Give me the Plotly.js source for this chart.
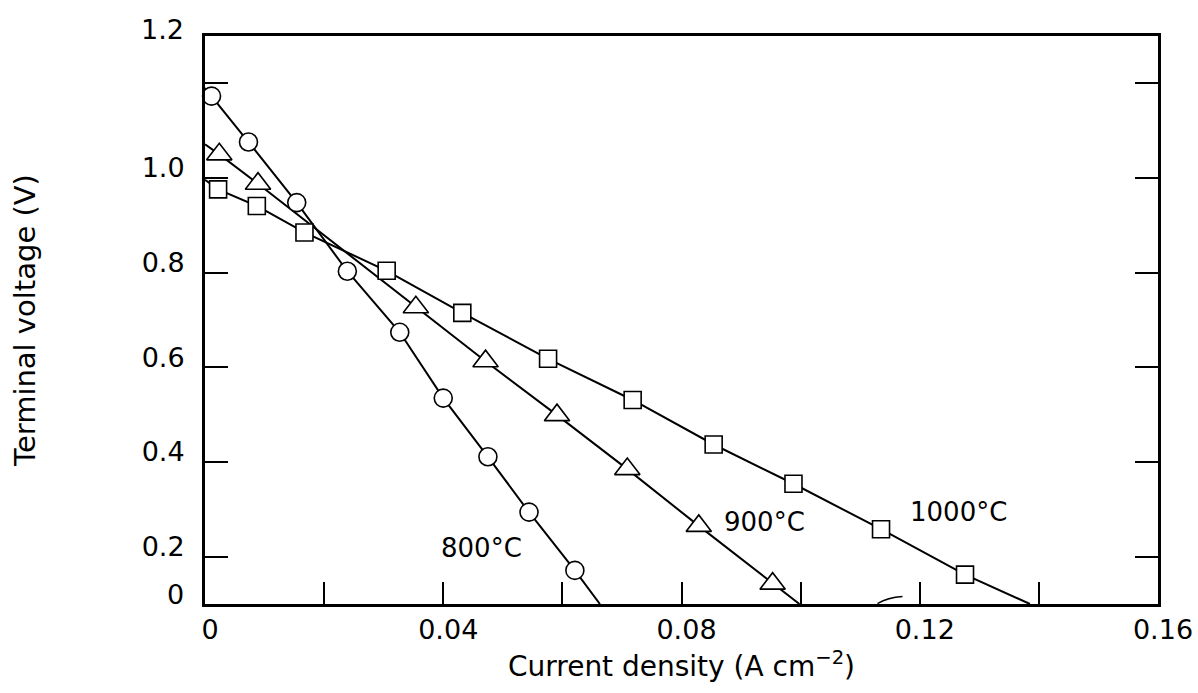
<!DOCTYPE html>
<html>
<head>
<meta charset="utf-8">
<script src="https://cdn.plot.ly/plotly-3.0.1.min.js"></script>
<style>html,body{margin:0;padding:0;background:#fff;}#chart{width:1198px;height:693px;}</style>
</head>
<body>
<div id="chart"></div>
<script>
// ---- data ----
const x800 = [0.0011, 0.0073, 0.0154, 0.0239, 0.0327, 0.0400, 0.0475, 0.0544, 0.0621];
const y800 = [1.173, 1.076, 0.948, 0.803, 0.674, 0.535, 0.411, 0.294, 0.171];
const ends800X = [0, 0.0663];
const ends800Y = [1.19, 0.1];

const x900 = [0.0024, 0.0089, 0.0354, 0.0471, 0.0591, 0.0709, 0.0829, 0.0953];
const y900 = [1.050, 0.988, 0.727, 0.613, 0.499, 0.385, 0.265, 0.143];
const ends900X = [0, 0.0998];
const ends900Y = [1.071, 0.1];

const x1000 = [0.0022, 0.0087, 0.0167, 0.0305, 0.0432, 0.0576, 0.0718, 0.0854, 0.0988, 0.1135, 0.1276];
const y1000 = [0.976, 0.941, 0.885, 0.804, 0.715, 0.618, 0.531, 0.437, 0.354, 0.258, 0.162];
const ends1000X = [0, 0.1385];
const ends1000Y = [0.996, 0.1];

const seriesLabels = ['800°C', '900°C', '1000°C'];
const labelX = [0.0465, 0.0939, 0.1265];
const labelY = [0.219, 0.274, 0.294];

const xTickVals = [0, 0.04, 0.08, 0.12, 0.16];
const xTickText = ['0', '0.04', '0.08', '0.12', '0.16'];
const xMinorTicks = [0.02, 0.06, 0.10, 0.14];
const yTickVals = [0.2, 0.4, 0.6, 0.8, 1.0];
const yTickText = ['0.2', '0.4', '0.6', '0.8', '1.0'];
const yMinorTicks = [1.2];
const yEdgeLabels = ['0', '1.2'];

// ---- build ----
const FONT = 'DejaVu Sans, Liberation Sans, Arial, sans-serif';
function fullLine(xs, ys, ex, ey) {
  return { x: [ex[0]].concat(xs, [ex[1]]), y: [ey[0]].concat(ys, [ey[1]]) };
}
const series = [
  { xs: x800, ys: y800, ex: ends800X, ey: ends800Y, sym: 'circle', size: 18 },
  { xs: x900, ys: y900, ex: ends900X, ey: ends900Y, sym: 'triangle-up', size: 22 },
  { xs: x1000, ys: y1000, ex: ends1000X, ey: ends1000Y, sym: 'square', size: 17 }
];
const traces = [];
series.forEach((s, i) => {
  const l = fullLine(s.xs, s.ys, s.ex, s.ey);
  traces.push({ x: l.x, y: l.y, mode: 'lines', type: 'scatter', name: seriesLabels[i],
    line: { color: '#000', width: 2 }, hoverinfo: 'skip', showlegend: false, cliponaxis: true });
});
series.forEach((s, i) => {
  traces.push({ x: s.xs, y: s.ys, mode: 'markers', type: 'scatter', name: seriesLabels[i],
    marker: { symbol: s.sym, size: s.size, color: '#fff', line: { color: '#000', width: 1.6 } },
    showlegend: false, cliponaxis: false });
});

const annotations = seriesLabels.map((t, i) => ({
  x: labelX[i], y: labelY[i], xref: 'x', yref: 'y', text: t, showarrow: false,
  font: { family: FONT, size: 26, color: '#000' }
}));
// edge labels of the y axis (placed at the frame edges, as in the original)
const edgePaperY = [0.0176, 1.0123];
yEdgeLabels.forEach((t, i) => {
  annotations.push({ x: 0, y: edgePaperY[i], xref: 'paper', yref: 'paper', text: t, showarrow: false,
    xanchor: 'right', yanchor: 'middle', xshift: -19, font: { family: FONT, size: 27, color: '#000' } });
});

const layout = {
  width: 1198, height: 693,
  margin: { l: 205, r: 40, t: 36, b: 89 },
  paper_bgcolor: '#fff', plot_bgcolor: '#fff',
  showlegend: false,
  font: { family: FONT, color: '#000' },
  xaxis: {
    range: [0, 0.16], tickvals: xTickVals, ticktext: xTickText,
    ticks: 'inside', ticklen: 22, tickwidth: 2, tickcolor: '#000',
    minor: { tickvals: xMinorTicks, ticks: 'inside', ticklen: 22, tickwidth: 2, tickcolor: '#000', showgrid: false },
    showline: true, linewidth: 3, linecolor: '#000', mirror: true,
    showgrid: false, zeroline: false, ticklabelshift: 5,
    tickfont: { family: FONT, size: 27, color: '#000' },
    title: { text: 'Current density (A cm<sup>−2</sup>)', font: { family: FONT, size: 28, color: '#000' }, standoff: 12 }
  },
  yaxis: {
    range: [0.1, 1.3], tickvals: yTickVals, ticktext: yTickText,
    ticks: 'inside', ticklen: 23, tickwidth: 2, tickcolor: '#000',
    minor: { tickvals: yMinorTicks, ticks: 'inside', ticklen: 23, tickwidth: 2, tickcolor: '#000', showgrid: false },
    showline: true, linewidth: 3, linecolor: '#000', mirror: 'ticks',
    showgrid: false, zeroline: false, ticklabelshift: -10, ticklabelstandoff: 12,
    tickfont: { family: FONT, size: 27, color: '#000' },
    title: { text: 'Terminal voltage (V)', font: { family: FONT, size: 29, color: '#000' }, standoff: 98 }
  },
  annotations: annotations,
  shapes: [{ type: 'path', xref: 'x', yref: 'y', path: 'M 0.1129 0.101 Q 0.1146 0.1137 0.1171 0.1158',
    line: { color: '#000', width: 1.5 } }]
};
Plotly.newPlot('chart', traces, layout, { staticPlot: true, displayModeBar: false });
</script>
</body>
</html>
